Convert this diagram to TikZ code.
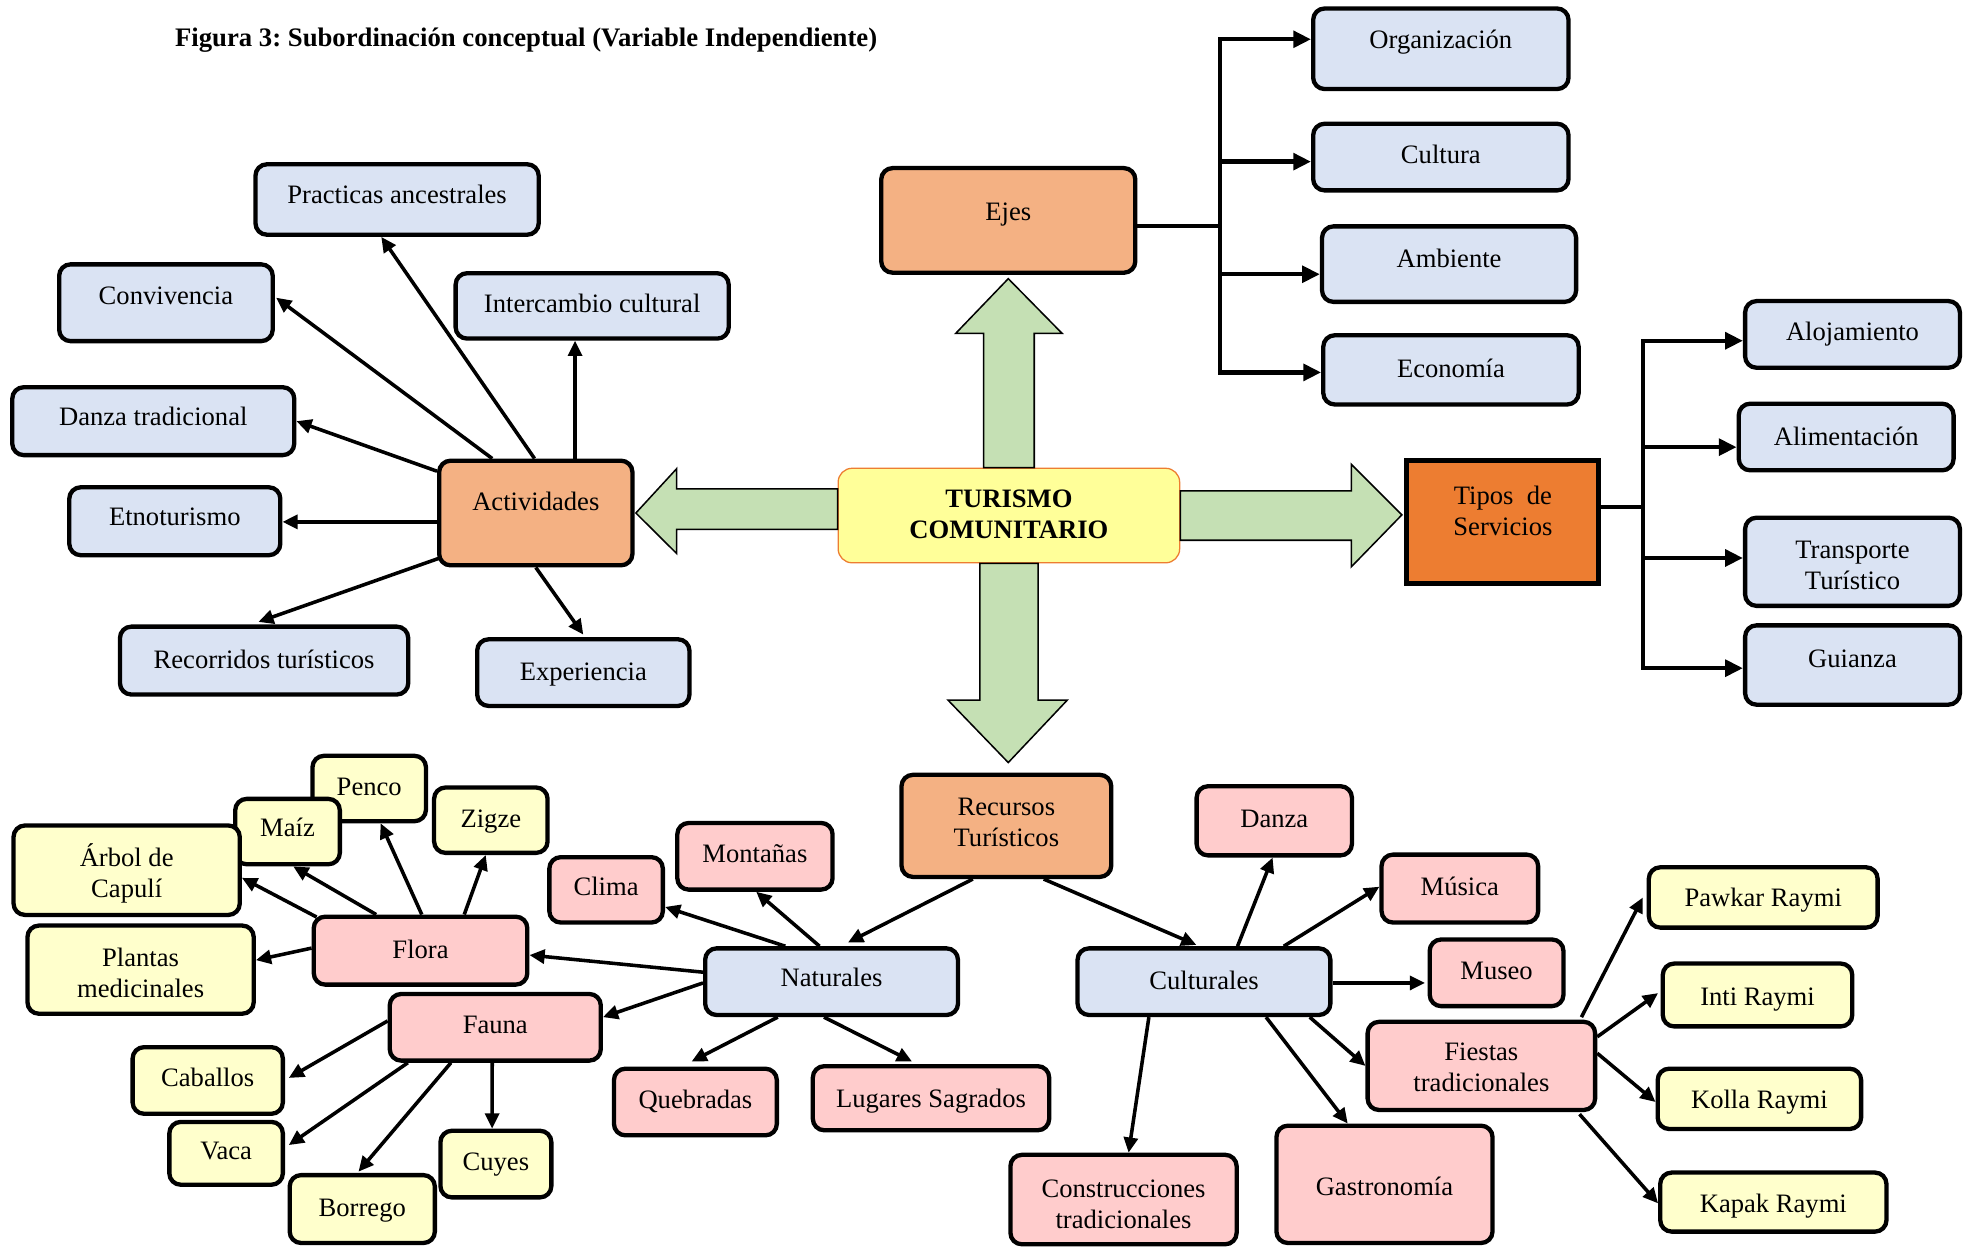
\documentclass[tikz,border=0pt]{standalone}
\usepackage{fontspec}
\setmainfont{Liberation Serif}
\usetikzlibrary{arrows.meta,calc}
\frenchspacing
\definecolor{cblue}{HTML}{DAE3F3}
\definecolor{cpink}{HTML}{FFCCCC}
\definecolor{cyel}{HTML}{FFFFCC}
\definecolor{cora}{HTML}{F4B183}
\definecolor{cdora}{HTML}{ED7D31}
\definecolor{cgreen}{HTML}{C5E0B4}
\definecolor{cturf}{HTML}{FFFF99}
\newcommand\fs{\fontsize{21}{24.5}\selectfont}
\newcommand\two[2]{\begin{tabular}[t]{@{}c@{}}#1\\#2\end{tabular}}
\tikzset{
  box/.style={draw=black,line width=3.4pt,rounded corners=9pt,inner sep=0pt},
  blue/.style={fill=cblue},
  pink/.style={fill=cpink},
  yel/.style={fill=cyel},
  ora/.style={fill=cora},
  tipos/.style={fill=cdora,sharp corners,line width=4pt},
  turs/.style={fill=cturf,draw=cdora,line width=1pt,rounded corners=11pt},
  lbl/.style={anchor=base,inner sep=0pt,font=\fs},
  arr/.style={line width=2.8pt,-{Triangle[length=12pt,width=11pt]}},
  barr/.style={line width=3.4pt,-{Triangle[length=14pt,width=13pt]}},
  blk/.style={fill=cgreen,draw=black,line width=1.2pt,line join=miter},
}
\newcommand\bx[8]{%
  \node[box,#6,minimum width={(#4-#2-3.4)*1pt},minimum height={(#5-#3-3.4)*1pt}] (#1) at ({(#2+#4)/2},{(#3+#5)/2}) {};
  \node[lbl] (#1t) at ({(#2+#4)/2},{#7+7}) {#8};}
\begin{document}
\begin{tikzpicture}[x=1pt,y=-1pt,font=\fs]
\useasboundingbox[fill=white] (0,0) rectangle (1560,986);
\node[anchor=base west,inner sep=0pt,font=\fontsize{21.1}{25}\selectfont\bfseries] (title) at (138,37) {Figura 3: Subordinación conceptual (Variable Independiente)};

% top: Ejes
\bx{ejes}{694}{131}{898}{217}{ora}{167}{Ejes}
\bx{org}{1035}{5}{1240}{72}{blue}{31}{Organización}
\bx{cul}{1035}{96}{1240}{152}{blue}{122}{Cultura}
\bx{amb}{1042}{177}{1246}{240}{blue}{204}{Ambiente}
\bx{eco}{1043}{263}{1248}{321}{blue}{291}{Economía}
% services
\bx{alo}{1376}{236}{1549}{292}{blue}{262}{Alojamiento}
\bx{ali}{1371}{317}{1544}{373}{blue}{345}{Alimentación}
\bx{tra}{1376}{407}{1549}{480}{blue}{434}{\two{Transporte}{Turístico}}
\bx{gui}{1376}{492}{1549}{558}{blue}{520}{Guianza}
\bx{tipos}{1109}{362}{1264}{462}{tipos}{391}{\two{Tipos\hspace{0.5em}de}{Servicios}}
% centre
\bx{tur}{660}{368}{933}{446}{turs}{394}{\two{\textbf{TURISMO}}{\textbf{COMUNITARIO}}}
% actividades
\bx{act}{345}{362}{501}{448}{ora}{396}{Actividades}
\bx{etno}{53}{383}{223}{440}{blue}{408}{Etnoturismo}
\bx{reco}{93}{493}{324}{550}{blue}{521}{Recorridos turísticos}
\bx{exp}{375}{503}{546}{559}{blue}{530}{Experiencia}
\bx{prac}{200}{128}{427}{187}{blue}{154}{Practicas ancestrales}
\bx{conv}{45}{207}{217}{271}{blue}{233}{Convivencia}
\bx{inter}{358}{214}{577}{269}{blue}{240}{Intercambio cultural}
\bx{dtrad}{8}{304}{234}{361}{blue}{329}{Danza tradicional}
% recursos
\bx{rec}{710}{610}{879}{694}{ora}{637}{\two{Recursos}{Turísticos}}
\bx{penco}{245}{595}{338}{650}{yel}{621}{Penco}
\bx{maiz}{184}{629}{270}{684}{yel}{653}{Maíz}
\bx{arbol}{9}{650}{191}{724}{yel}{677}{\two{Árbol de}{Capulí}}
\bx{zigze}{341}{620}{434}{675}{yel}{646}{Zigze}
\bx{plantas}{20}{729}{202}{802}{yel}{756}{\two{Plantas}{medicinales}}
\bx{flora}{246}{722}{418}{779}{pink}{750}{Flora}
\bx{fauna}{306}{783}{476}{839}{pink}{809}{Fauna}
\bx{caballos}{103}{825}{225}{881}{yel}{851}{Caballos}
\bx{vaca}{132}{884}{225}{937}{yel}{908}{Vaca}
\bx{borrego}{227}{926}{345}{983}{yel}{953}{Borrego}
\bx{cuyes}{346}{891}{437}{947}{yel}{917}{Cuyes}
\bx{clima}{432}{675}{525}{730}{pink}{700}{Clima}
\bx{mont}{533}{648}{659}{704}{pink}{674}{Montañas}
\bx{nat}{555}{747}{758}{803}{blue}{772}{Naturales}
\bx{queb}{483}{842}{615}{898}{pink}{868}{Quebradas}
\bx{lug}{640}{840}{830}{894}{pink}{867}{Lugares Sagrados}
\bx{danza}{943}{619}{1069}{677}{pink}{646}{Danza}
\bx{musica}{1089}{673}{1216}{730}{pink}{700}{Música}
\bx{museo}{1127}{740}{1236}{796}{pink}{766}{Museo}
\bx{cult}{849}{747}{1052}{803}{blue}{774}{Culturales}
\bx{fiestas}{1078}{805}{1261}{878}{pink}{830}{\two{Fiestas}{tradicionales}}
\bx{pawkar}{1300}{683}{1484}{734}{yel}{709}{Pawkar Raymi}
\bx{inti}{1311}{759}{1464}{812}{yel}{787}{Inti Raymi}
\bx{kolla}{1307}{842}{1471}{893}{yel}{868}{Kolla Raymi}
\bx{kapak}{1309}{924}{1491}{974}{yel}{950}{Kapak Raymi}
\bx{constr}{796}{910}{978}{984}{pink}{938}{\two{Construcciones}{tradicionales}}
\bx{gastro}{1006}{887}{1180}{983}{pink}{937}{Gastronomía}

% block arrows
\draw[blk] ([xshift=-20pt]tur.north) -- ([shift={(-20pt,106pt)}]tur.north) -- ([shift={(-42pt,106pt)}]tur.north)
  -- ([yshift=-3pt]ejes.south) -- ([shift={(42pt,106pt)}]tur.north) -- ([shift={(20pt,106pt)}]tur.north)
  -- ([xshift=20pt]tur.north) -- cycle;
\draw[blk] ([yshift=19.5pt]tur.east) -- ([shift={(135pt,19.5pt)}]tur.east) -- ([shift={(135pt,40.5pt)}]tur.east)
  -- ([shift={(-2pt,5.5pt)}]tipos.west) -- ([shift={(135pt,-40.5pt)}]tur.east) -- ([shift={(135pt,-19.5pt)}]tur.east)
  -- ([yshift=-19.5pt]tur.east) -- cycle;
\draw[blk] ([yshift=21pt]tur.west) -- ([shift={(-127pt,21pt)}]tur.west) -- ([shift={(-127pt,37pt)}]tur.west)
  -- ([xshift=1pt]act.east) -- ([shift={(-127pt,-30pt)}]tur.west) -- ([shift={(-127pt,-11pt)}]tur.west)
  -- ([yshift=-11pt]tur.west) -- cycle;
\draw[blk] ([xshift=-23pt]tur.south) -- ([shift={(-23pt,-108pt)}]tur.south) -- ([shift={(-48pt,-108pt)}]tur.south)
  -- ([shift={(1.5pt,8pt)}]rec.north) -- ([shift={(46pt,-108pt)}]tur.south) -- ([shift={(23pt,-108pt)}]tur.south)
  -- ([xshift=23pt]tur.south) -- cycle;

% Ejes bus
\draw[barr] ([yshift=-4.5pt]ejes.east) -- ++(65,0) |- ([yshift=7.5pt]org.west);
\draw[barr] ([yshift=-4.5pt]ejes.east) -- ++(65,0) |- ([yshift=-3.6pt]cul.west);
\draw[barr] ([yshift=-4.5pt]ejes.east) -- ++(65,0) |- ([yshift=-8pt]amb.west);
\draw[barr] ([yshift=-4.5pt]ejes.east) -- ++(65,0) |- ([yshift=-2pt]eco.west);
% Tipos bus
\draw[barr] ([yshift=12pt]tipos.east) -- ++(33,0) |- ([yshift=-5pt]alo.west);
\draw[barr] ([yshift=12pt]tipos.east) -- ++(33,0) |- ([yshift=-8pt]ali.west);
\draw[barr] ([yshift=12pt]tipos.east) -- ++(33,0) |- ([yshift=3pt]tra.west);
\draw[barr] ([yshift=12pt]tipos.east) -- ++(33,0) |- ([yshift=-2.5pt]gui.west);

% Actividades
\draw[arr] ([xshift=-1pt]act.north) -- ([xshift=-12.5pt]prac.south);
\draw[arr] ([xshift=-34.4pt]act.north) -- ([shift={(1pt,4pt)}]conv.east);
\draw[arr] ([xshift=31pt]act.north) -- ([xshift=-13.5pt]inter.south);
\draw[arr] ([yshift=-10pt]act.north west) -- (dtrad.east);
\draw[arr] ([yshift=-7pt]act.west) -- ([yshift=-0.5pt]etno.east);
\draw[arr] ([shift={(2pt,7.4pt)}]act.south west) -- ([shift={(-4.5pt,2pt)}]reco.north);
\draw[arr] (act.south) -- ([yshift=2pt]exp.north);

% Recursos
\draw[arr] ([xshift=-26.5pt]rec.south) -- ([shift={(13pt,3pt)}]nat.north);
\draw[arr] ([xshift=29.5pt]rec.south) -- ([shift={(-6pt,1pt)}]cult.north);

% Naturales
\draw[arr] ([yshift=7.5pt]nat.west) -- ([yshift=-3.5pt]flora.east);
\draw[arr] ([yshift=-1pt]nat.west) -- ([yshift=8pt]fauna.east);
\draw[arr] ([xshift=-36.5pt]nat.north) -- ([yshift=-13.5pt]clima.east);
\draw[arr] ([xshift=-9.5pt]nat.north) -- ([xshift=1pt]mont.south);
\draw[arr] ([xshift=-42.5pt]nat.south) -- ([shift={(-3pt,4pt)}]queb.north);
\draw[arr] ([xshift=-6pt]nat.south) -- ([shift={(-15pt,2pt)}]lug.north);

% Flora
\draw[arr] ([shift={(4pt,-2pt)}]flora.north west) -- ([yshift=-6pt]arbol.east);
\draw[arr] ([xshift=-35pt]flora.north) -- ([xshift=4.5pt]maiz.south);
\draw[arr] ([xshift=1pt]flora.north) -- ([xshift=9pt]penco.south);
\draw[arr] ([xshift=34.5pt]flora.north) -- ([xshift=-4pt]zigze.south);
\draw[arr] ([yshift=2pt]flora.west) -- ([yshift=7.5pt]plantas.east);

% Fauna
\draw[arr] ([yshift=5pt]fauna.west) -- ([shift={(3pt,2pt)}]caballos.east);
\draw[arr] ([xshift=-69pt]fauna.south) -- ([shift={(3pt,6.5pt)}]vaca.east);
\draw[arr] ([xshift=-35pt]fauna.south) -- ([shift={(-3pt,1pt)}]borrego.north);
\draw[arr] ([xshift=-2.4pt]fauna.south) -- ([xshift=-3pt]cuyes.north);

% Culturales
\draw[arr] ([xshift=26.5pt]cult.north) -- ([xshift=-1.3pt]danza.south);
\draw[arr] ([xshift=63pt]cult.north) -- ([yshift=1.5pt]musica.west);
\draw[arr] ([yshift=-1pt]cult.east) -- ([shift={(-2pt,-8pt)}]museo.west);
\draw[arr] ([xshift=83.5pt]cult.south) -- (fiestas.west);
\draw[arr] ([xshift=49pt]cult.south) -- ([xshift=-29pt]gastro.north);
\draw[arr] ([xshift=-43.5pt]cult.south) -- ([xshift=4pt]constr.north);

% Fiestas
\draw[arr] ([shift={(-12.5pt,2pt)}]fiestas.north east) -- ([xshift=-3pt]pawkar.west);
\draw[arr] ([yshift=23pt]fiestas.east) -- ([shift={(-2pt,1.5pt)}]inti.west);
\draw[arr] ([yshift=10pt]fiestas.east) -- ([yshift=-2.5pt]kolla.west);
\draw[arr] ([shift={(-14pt,-1.6pt)}]fiestas.south east) -- ([yshift=-1pt]kapak.west);
\end{tikzpicture}
\end{document}
